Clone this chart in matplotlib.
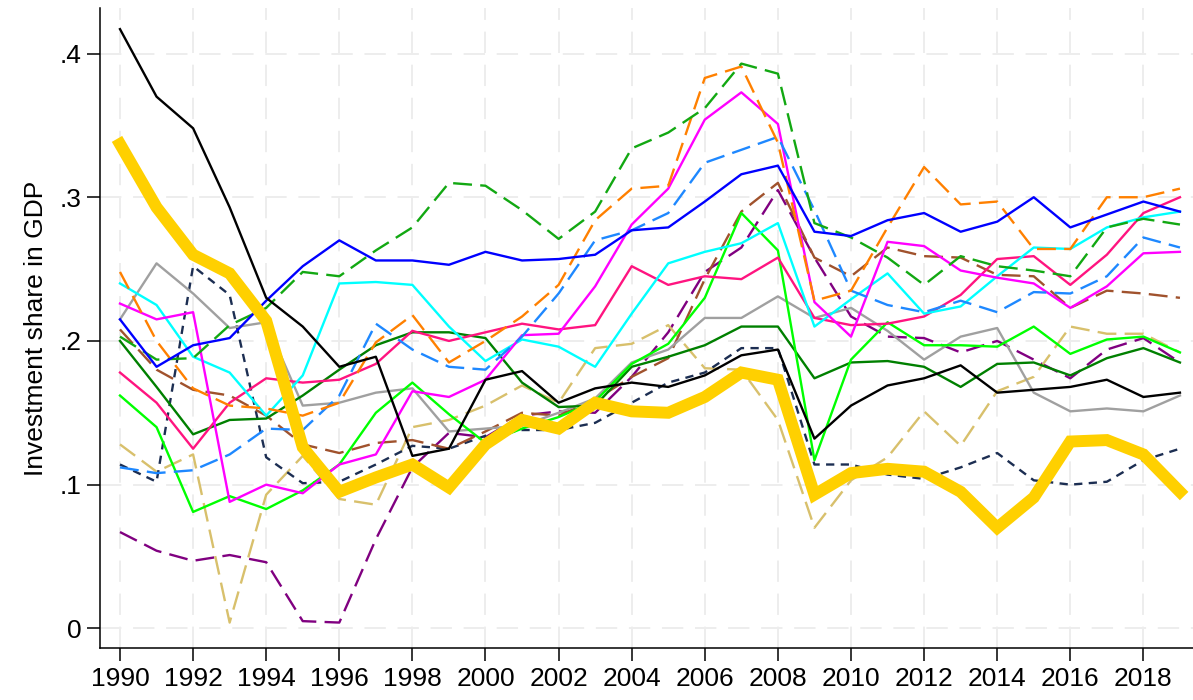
import matplotlib
matplotlib.use('Agg')
import matplotlib.pyplot as plt

plt.rcParams['font.family'] = ['Liberation Sans', 'DejaVu Sans']

YEARS = list(range(1990, 2020))

GOLD = [.337, .293, .260, .247, .214, .126, .095, .105, .114, .098, .128, .145, .139, .157, .151,
        .150, .161, .178, .173, .093, .108, .111, .109, .095, .070, .091, .130, .131, .121, .095]
BLACK = [.417, .370, .348, .293, .230, .210, .182, .189, .120, .125, .173, .179, .157, .167, .171,
         .168, .176, .190, .194, .132, .155, .169, .174, .183, .164, .166, .168, .173, .161, .164]
BLUE = [.215, .182, .197, .202, .228, .252, .270, .256, .256, .253, .262, .256, .257, .260, .277,
        .279, .297, .316, .322, .276, .273, .284, .289, .276, .283, .300, .279, .288, .297, .290]
GREEN_DASH = [.203, .187, .188, .211, .223, .248, .245, .263, .279, .310, .308, .291, .271, .290, .334,
              .345, .362, .393, .386, .282, .272, .258, .239, .259, .252, .249, .245, .279, .285, .281]
ORANGE = [.248, .200, .167, .155, .153, .148, .157, .199, .218, .185, .200, .217, .239, .284, .306,
          .308, .383, .391, .338, .228, .235, .279, .321, .295, .297, .264, .264, .300, .300, .306]
SKY = [.112, .108, .110, .121, .139, .138, .162, .212, .194, .182, .180, .203, .233, .270, .277,
       .289, .324, .333, .342, .291, .235, .225, .220, .228, .220, .234, .233, .245, .272, .265]
MAGENTA = [.226, .215, .220, .088, .100, .094, .114, .121, .165, .161, .173, .204, .205, .238, .281,
           .306, .354, .373, .351, .227, .203, .269, .266, .249, .244, .240, .223, .238, .261, .262]
CYAN = [.240, .225, .189, .178, .148, .176, .240, .241, .239, .210, .186, .201, .196, .182, .219,
        .254, .262, .268, .282, .210, .229, .247, .219, .224, .245, .265, .264, .279, .286, .290]
PINK = [.178, .157, .125, .157, .174, .171, .173, .184, .207, .200, .206, .212, .208, .211, .252,
        .239, .245, .243, .258, .216, .211, .212, .217, .232, .257, .259, .239, .260, .289, .300]
GRAY = [.215, .254, .233, .209, .213, .155, .157, .164, .167, .137, .139, .141, .150, .160, .185,
        .194, .216, .216, .231, .216, .223, .207, .187, .203, .209, .164, .151, .153, .151, .162]
NAVY = [.114, .102, .252, .232, .119, .101, .102, .114, .127, .125, .134, .138, .138, .143, .157,
        .171, .178, .195, .195, .114, .114, .107, .104, .112, .122, .103, .100, .102, .117, .125]
BROWN = [.208, .180, .166, .162, .148, .128, .122, .129, .131, .125, .137, .150, .148, .159, .175,
         .188, .243, .290, .310, .258, .245, .265, .259, .258, .246, .245, .223, .235, .233, .230]
DKGREEN = [.200, .168, .135, .145, .146, .162, .180, .197, .206, .206, .202, .171, .154, .155, .182,
           .189, .197, .210, .210, .174, .185, .186, .182, .168, .184, .185, .176, .188, .195, .185]
LIME = [.162, .140, .081, .092, .083, .096, .114, .150, .171, .149, .129, .139, .147, .158, .184,
        .198, .230, .289, .263, .117, .187, .213, .197, .197, .196, .210, .191, .201, .203, .192]
TAN = [.128, .109, .121, .004, .093, .120, .090, .086, .140, .145, .155, .169, .157, .195, .198,
       .211, .181, .180, .145, .070, .103, .119, .151, .127, .165, .175, .210, .205, .205, .192]
PURPLE = [.067, .054, .047, .051, .046, .005, .004, .062, .112, .136, .133, .148, .151, .150, .175,
          .206, .248, .265, .305, .258, .217, .203, .202, .192, .200, .187, .174, .194, .202, .185]

XTICKS = list(range(1990, 2019, 2))
YTICKS = [0, .1, .2, .3, .4]
YTICKLABELS = ['0', '.1', '.2', '.3', '.4']

LONG = (8, 3.5)
SHORT = (3.5, 2.7)

# (values, colour, dash pattern or None for solid)
SERIES = [
    (PURPLE, '#800080', LONG),
    (TAN, '#D8C06C', LONG),
    (NAVY, '#1C2E52', SHORT),
    (BROWN, '#A0522D', LONG),
    (GRAY, '#A0A0A0', None),
    (DKGREEN, '#008000', None),
    (LIME, '#00FF00', None),
    (PINK, '#FF1480', None),
    (CYAN, '#00FFFF', None),
    (MAGENTA, '#FF00FF', None),
    (SKY, '#1E88FF', LONG),
    (ORANGE, '#FF8000', LONG),
    (GREEN_DASH, '#12A812', LONG),
    (BLUE, '#0000FF', None),
    (BLACK, '#000000', None),
]


def main():
    fig = plt.figure(figsize=(11.93, 7.0), dpi=100)
    ax = fig.add_axes([100 / 1193, 1 - 648 / 700, 1 - 100 / 1193, 640 / 700])

    for vals, color, dash in SERIES:
        line, = ax.plot(YEARS, vals, color=color, lw=1.7, zorder=2)
        if dash is not None:
            line.set_dashes(dash)

    ax.plot(YEARS, GOLD, color='#FFD000', lw=8.6, solid_joinstyle='miter', zorder=3)

    ax.set_xlim(1989.453, 2019.357)
    ax.set_ylim(-0.0137, 0.4317)
    ax.set_xticks(XTICKS)
    ax.set_yticks(YTICKS)
    ax.set_yticklabels(YTICKLABELS)
    ax.tick_params(axis='both', length=9.5, width=1.1, labelsize=19, pad=4)

    ax.grid(True, color='#EDEDED', lw=1.4, ls=(0, (11, 6)), zorder=0)
    ax.set_axisbelow(True)

    for side in ['top', 'right']:
        ax.spines[side].set_visible(False)
    for side in ['left', 'bottom']:
        ax.spines[side].set_linewidth(1.1)

    ax.set_ylabel('Investment share in GDP', fontsize=19, labelpad=8)

    fig.savefig('out.png', dpi=100)


if __name__ == '__main__':
    main()
